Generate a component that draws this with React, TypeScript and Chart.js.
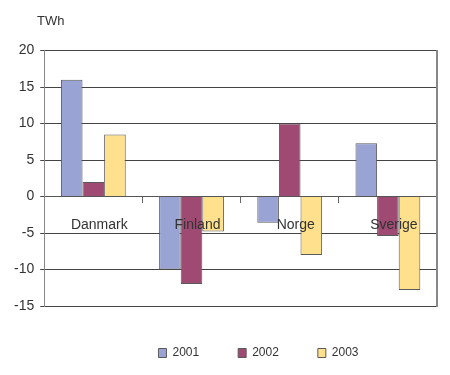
import React, { useEffect, useRef } from "react";
import { Chart, registerables } from "chart.js";

Chart.register(...registerables);

const categories = ["Danmark", "Finland", "Norge", "Sverige"];
const seriesNames = ["2001", "2002", "2003"];
const values2001 = [16, -10, -3.6, 7.3];
const values2002 = [2, -12, 10, -5.4];
const values2003 = [8.5, -4.8, -8, -12.8];
const colors = ["#99a3d4", "#9e4a72", "#ffe08c"];
const yMin = -15;
const yMax = 20;
const yStep = 5;
const unitLabel = "TWh";

const shiftPlugin = {
  id: "shiftBlocks",
  afterUpdate(chart: any) {
    const t = chart.titleBlock;
    if (t) {
      t.left += 29;
      t.right += 29;
    }
    const l = chart.legend;
    if (l) {
      l.left += 36;
      l.right += 36;
      l.top += 2;
      l.bottom += 2;
      if (l.adjustHitBoxes) l.adjustHitBoxes();
    }
  },
};

export default function App() {
  const ref = useRef<HTMLCanvasElement | null>(null);
  useEffect(() => {
    if (!ref.current) return;
    const allValues = [values2001, values2002, values2003];
    const chart = new Chart(ref.current, {
      type: "bar",
      data: {
        labels: categories,
        datasets: seriesNames.map((name, i) => ({
          label: name,
          data: allValues[i],
          backgroundColor: colors[i],
          borderColor: "#5a5a5a",
          borderWidth: 1,
          categoryPercentage: 0.66,
          barPercentage: 1,
        })),
      },
      options: {
        animation: false,
        responsive: true,
        maintainAspectRatio: false,
        layout: { padding: { left: 0, right: 5, top: 0, bottom: 0 } },
        plugins: {
          title: {
            display: true,
            text: unitLabel,
            align: "start",
            color: "#333333",
            font: { family: "'Liberation Sans', Arial, sans-serif", size: 13, weight: "normal" },
            padding: { top: 6, bottom: 21 },
          },
          legend: {
            position: "bottom",
            labels: {
              boxWidth: 8,
              boxHeight: 9,
              padding: 39,
              color: "#333333",
              font: { family: "'Liberation Sans', Arial, sans-serif", size: 12 },
            },
          },
          tooltip: { enabled: false },
        },
        scales: {
          x: {
            position: { y: 0 } as any,
            grid: {
              offset: true,
              drawOnChartArea: false,
              drawTicks: true,
              tickLength: 6,
              color: "#666666",
            },
            border: { display: true, color: "#555555", width: 1 },
            ticks: {
              z: 1,
              color: "#333333",
              padding: 14,
              labelOffset: 6,
              maxRotation: 0,
              font: { family: "'Liberation Sans', Arial, sans-serif", size: 14 },
            },
          },
          y: {
            min: yMin,
            max: yMax,
            ticks: {
              stepSize: yStep,
              color: "#333333",
              padding: 6,
              font: { family: "'Liberation Sans', Arial, sans-serif", size: 14 },
            },
            grid: {
              color: "#444444",
              lineWidth: 1,
              drawTicks: true,
              tickLength: 4,
            },
            border: { display: true, color: "#888888", width: 1 },
          },
          yRight: {
            position: "right",
            min: yMin,
            max: yMax,
            ticks: { display: false },
            grid: { drawOnChartArea: false, drawTicks: false },
            border: { display: true, color: "#888888", width: 2 },
          },
        },
      },
      plugins: [shiftPlugin],
    });
    return () => chart.destroy();
  }, []);
  return (
    <div style={{ position: "relative", width: 434, height: 359 }}>
      <canvas ref={ref} />
    </div>
  );
}
